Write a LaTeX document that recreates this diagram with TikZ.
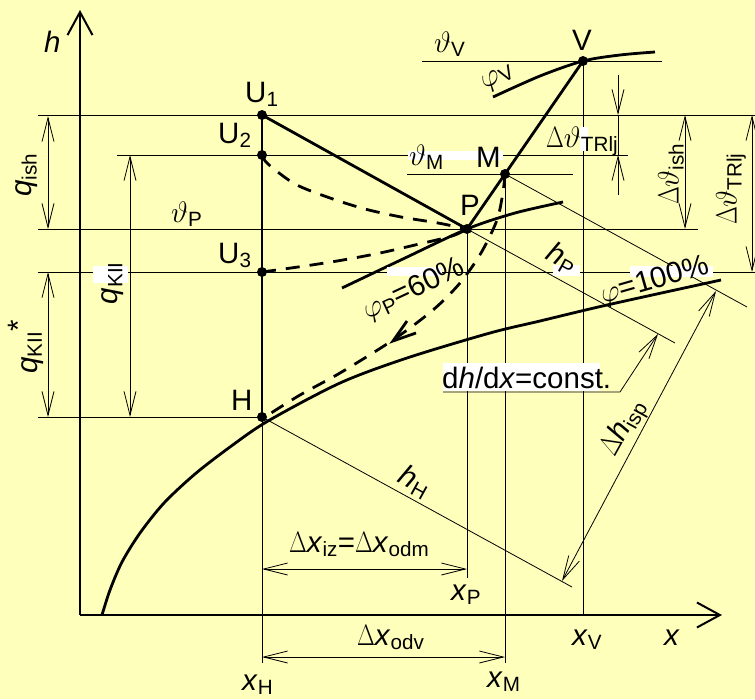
\documentclass[tikz,border=0pt]{standalone}
\usepackage{fix-cm}
\usepackage{fontspec}
\setmainfont{Liberation Sans}
\usetikzlibrary{arrows.meta}
\definecolor{bgyel}{RGB}{255,255,188}
\newcommand{\sbs}[1]{\textsubscript{#1}}
\newcommand{\Dl}{\scalebox{0.78}[1]{$\Delta$}}
\tikzset{
  thinl/.style={line width=0.8pt},
  heavy/.style={line width=2.8pt},
  axisl/.style={line width=2pt, -{Straight Barb[length=23pt,width=25pt]}},
  dashc/.style={line width=2.8pt, dash pattern=on 14pt off 10pt},
  dot/.style={circle, fill=black, inner sep=0pt, minimum size=10pt},
  lbl/.style={font=\fontsize{29.5}{32}\selectfont, inner sep=0pt},
  mask/.style={fill=white, draw=none},
}
\begin{document}
\begin{tikzpicture}[x=1pt,y=-1pt, >={Straight Barb[length=24pt,width=12pt]}]
\fill[bgyel] (0,0) rectangle (755,699);
\useasboundingbox (0,0) rectangle (755,699);

% points
\node[dot] (U1) at (262,115) {};
\node[dot] (U2) at (262,155) {};
\node[dot] (U3) at (262,272) {};
\node[dot] (H) at (262,417) {};
\node[dot] (P) at (467,229) {};
\node[dot] (M) at (505,174) {};
\node[dot] (V) at (583,61) {};
\coordinate (O) at (80,615);

% axes
\draw[axisl] (O) -- (80,10);
\draw[axisl] (O) -- (722,615);

% horizontal reference lines
\draw[thinl] (38,115) -- (755,115);
\draw[thinl] (117,155) -- (628,155);
\draw[thinl] (38,229) -- (698,229);
\draw[thinl] (38,272) -- (755,272);
\draw[thinl] (38,417) -- (H.center);
\draw[thinl] (422,61) -- (662,61);
\draw[thinl] (407,174) -- (573,174);
% vertical reference lines
\draw[thinl] (H.center) -- (262,663);
\draw[thinl] (P.center) -- (467,578);
\draw[thinl] (M.center) -- (505,663);
\draw[thinl] (V.center) -- (583,615);
% oblique enthalpy lines
\draw[thinl] (H.center) -- (572,587);
\draw[thinl] (P.center) -- (675,343);
\draw[thinl] (M.center) -- (747,307);

% dimension lines
\draw[thinl,<->] (48,116) -- (48,229);
\draw[thinl,<->] (130,155) -- (130,417);
\draw[thinl,<->] (48,272) -- (48,417);
\draw[thinl,<->] (685,115) -- (685,229);
\draw[thinl,<->] (752,115) -- (752,272);
\draw[thinl,->] (618,75) -- (618,115);
\draw[thinl] (618,115) -- (618,155);
\draw[thinl,->] (618,195) -- (618,155);
\draw[thinl,<->] (262,569) -- (467,569);
\draw[thinl,<->] (262,657) -- (505,657);
\draw[thinl,<->] (562,581) -- (716,291);
\draw[thinl,->] (443,392) -- (620,392) -- (658,334);

% saturation curve phi = 100%
\draw[heavy] plot[smooth] coordinates {(102,615) (110,590) (122,562) (140,533) (164,503) (195,474) (230,447) (268,421) (340,383) (407,358) (490,333) (540,321) (607,305) (721,280)};
% phi_P curve
\draw[heavy] plot[smooth] coordinates {(342,288) (405,258) (467,229) (515,213) (563,202)};
% phi_V curve
\draw[heavy] plot[smooth] coordinates {(493,97) (540,76) (583,61) (620,55) (655,52)};

% process lines
\draw[heavy] (U1.center) -- (H.center);
\draw[heavy] (U1.center) -- (P.center);
\draw[heavy] (P.center) -- (M.center) -- (V.center);

% dashed curves
\draw[dashc] plot[smooth] coordinates {(262,155) (268,164) (295,184) (330,198) (365,209) (401,217) (438,223) (467,229)};
\draw[dashc] plot[smooth] coordinates {(262,272) (305,266) (343,260) (380,253) (415,245) (452,236) (467,229)};
\draw[dashc] plot[smooth] coordinates {(505,174) (503,192) (497,220) (481,253) (460,283) (433,310) (393,340) (340,373) (300,395) (268,415)};
\draw[heavy] (407,321) -- (393,341) -- (416,333);

% white masks
\fill[mask] (93,266) rectangle (128,283);
\fill[mask] (408,151) rectangle (503,160);
\fill[mask] (580,127) rectangle (588,151);
\fill[mask] (387,267) rectangle (442,276);
\fill[mask] (553,265) rectangle (580,276);
\fill[mask] (630,266) rectangle (713,277);
\fill[mask] (443,363) rectangle (600,391);

% labels
\node[lbl, anchor=base west] (hl) at (44,52) {\textit{h}};
\node[lbl, anchor=base west] (xl) at (664,645) {\textit{x}};
\node[lbl, anchor=base west] (U1l) at (245,102) {U\sbs{1}};
\node[lbl, anchor=base west] (U2l) at (218,143) {U\sbs{2}};
\node[lbl, anchor=base west] (U3l) at (218,263) {U\sbs{3}};
\node[lbl, anchor=base west] (Hl) at (231,410) {H};
\node[lbl, anchor=base west] (Pl) at (460,215) {P};
\node[lbl, anchor=base west] (Ml) at (476,167) {M};
\node[lbl, anchor=base west] (Vl) at (572,50) {V};
\node[lbl, anchor=base west] (thP) at (171,222) {$\vartheta$\sbs{P}};
\node[lbl, anchor=base west] (thM) at (409,165) {$\vartheta$\sbs{M}};
\node[lbl, anchor=base west] (thV) at (434,52) {$\vartheta$\sbs{V}};
\node[lbl, anchor=base west] (dthT) at (546,147) {\Dl$\vartheta$\sbs{TRlj}};
\node[lbl, anchor=base west] (xHl) at (242,690) {\textit{x}\sbs{H}};
\node[lbl, anchor=base west] (xPl) at (451,600) {\textit{x}\sbs{P}};
\node[lbl, anchor=base west] (xMl) at (487,687) {\textit{x}\sbs{M}};
\node[lbl, anchor=base west] (xVl) at (572,645) {\textit{x}\sbs{V}};
\node[lbl, anchor=base west] (dxiz) at (289,552) {\Dl\textit{x}\sbs{iz}=\Dl\textit{x}\sbs{odm}};
\node[lbl, anchor=base west] (dxodv) at (357,645) {\Dl\textit{x}\sbs{odv}};
\node[lbl, anchor=base west] (dhdx) at (442,388) {d\textit{h}/d\textit{x}=const.};

\node[lbl, rotate=90] (qish) at (27,175) {\textit{q}\sbs{ish}};
\node[lbl, rotate=90] (qkii) at (113,283) {\textit{q}\sbs{KII}};
\node[lbl, rotate=90] (qkiis) at (26,347) {\textit{q}\sbs{KII}\raisebox{0.3em}{*}};
\node[lbl, rotate=90] (dthish) at (671,174) {\Dl$\vartheta$\sbs{ish}};
\node[lbl, rotate=90] (dthTR) at (731,189) {\Dl$\vartheta$\sbs{TRlj}};
\node[lbl, rotate=25] (phiP) at (414,290) {$\varphi$\sbs{P}=60\%};
\node[lbl, rotate=-29] (hPl) at (562,259) {\textit{h}\sbs{P}};
\node[lbl, rotate=-29] (hHl) at (415,482) {\textit{h}\sbs{H}};
\node[lbl, rotate=16] (phi100) at (655,281) {$\varphi$=100\%};
\node[lbl, rotate=61] (dhisp) at (624,428) {\Dl\textit{h}\sbs{isp}};
\node[lbl, rotate=30] (phiV) at (498,78) {$\varphi$\sbs{V}};
\end{tikzpicture}
\end{document}
